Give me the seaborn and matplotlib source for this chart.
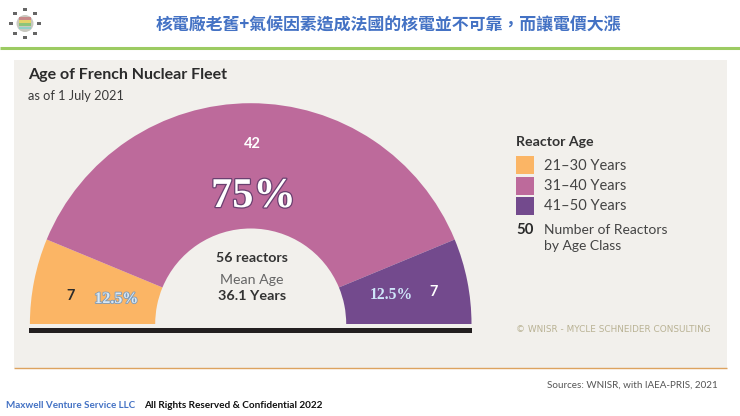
import matplotlib
matplotlib.use("Agg")
import matplotlib.pyplot as plt
import matplotlib.patheffects as pe
from matplotlib.patches import Rectangle, Circle
import seaborn as sns

age_classes = ["21–30 Years", "31–40 Years", "41–50 Years"]
reactors = [7, 42, 7]
shares = ["12.5%", "75%", "12.5%"]
colors = ["#FBB565", "#BD6A9B", "#734A8D"]
total_reactors = 56
mean_age = "36.1 Years"

sns.set_theme(style="white")
SANS = ["Lato", "DejaVu Sans"]
plt.rcParams["font.family"] = SANS

W, H = 740, 416
fig = plt.figure(figsize=(W / 100, H / 100), dpi=100, facecolor="white")
ax = fig.add_axes([0, 0, 1, 1])
Y = lambda py: H - py

ax.add_patch(Rectangle((14, Y(368)), 713, 308, fc="#F2F0EC", ec="none", zorder=0))

# half doughnut: hidden lower half balances the visible half
cx, cy, R, r = 250.7, Y(324), 220.8, 95.5
ax.pie(reactors + [sum(reactors)], colors=colors + ["none"], startangle=180,
       counterclock=False, center=(cx, cy), radius=R, frame=True,
       wedgeprops=dict(width=R - r, linewidth=0))
ax.set_xlim(0, W)
ax.set_ylim(0, H)
ax.set_aspect("auto")
ax.axis("off")

# rules
ax.plot([0, W], [Y(48), Y(48)], color="#9CCB62", lw=2.2, solid_capstyle="butt")
ax.plot([14, 727], [Y(368), Y(368)], color="#DDA35F", lw=1, solid_capstyle="butt")
ax.add_patch(Rectangle((29, Y(332.5)), 443, 4.5, fc="#231F20", ec="none", zorder=3))

def T(x, y, s, size, color="#333333", weight="normal", ha="left", family=None, **kw):
    return ax.text(x, Y(y), s, fontsize=size, color=color, fontweight=weight, ha=ha,
                   va="center", family=family or SANS, zorder=5, **kw)

T(388.5, 25.5, "核電廠老舊+氣候因素造成法國的核電並不可靠，而讓電價大漲", 12.2, "#4472C4", "bold",
  ha="center", family=["Noto Sans CJK TC", "DejaVu Sans"])
T(28, 75, "Age of French Nuclear Fleet", 11.5, "#2B2B2B", "bold")
T(28, 96.5, "as of 1 July 2021", 9.2, "#3A3A3A")

# slice labels
T(252, 144.5, str(reactors[1]), 10.5, "white", "bold", ha="center")
big = T(253.5, 197, shares[1], 30.5, "white", "bold", ha="center", family=["Liberation Serif"])
big.set_path_effects([pe.withStroke(linewidth=1.8, foreground="#6A4070")])
T(71, 295.5, str(reactors[0]), 10.5, "#2B2B2B", "bold", ha="center")
T(434, 291.5, str(reactors[2]), 10.5, "white", "bold", ha="center")
t1 = T(116.5, 299, shares[0], 11.5, "#D9E8F5", "bold", ha="center", family=["Liberation Serif"])
t1.set_path_effects([pe.withStroke(linewidth=1.2, foreground="#7E9BB8")])
T(391.5, 295, shares[2], 11.3, "#CFE6FA", "bold", ha="center", family=["Liberation Serif"])

# centre text
T(252, 258, f"{total_reactors} reactors", 10.2, "#333333", "bold", ha="center")
T(252, 279.5, "Mean Age", 10.2, "#666666", ha="center")
T(252, 296.5, mean_age, 10.4, "#333333", "bold", ha="center")

# legend
T(516, 142.5, "Reactor Age", 10.2, "#333333", "bold")
for py, lab, col in zip([156, 176.5, 197], age_classes, colors):
    ax.add_patch(Rectangle((516, Y(py + 18)), 18, 18, fc=col, ec="none", zorder=4))
    T(544.5, py + 9.5, lab, 10.5, "#444444")
T(516, 229.5, "50", 10.8, "#2B2B2B", "bold")
T(544.5, 229.5, "Number of Reactors", 10.0, "#444444")
T(544.5, 246.5, "by Age Class", 10.0, "#444444")
T(516, 330, "© WNISR - MYCLE SCHNEIDER CONSULTING", 6.4, "#B9B294", family=["DejaVu Sans"])

# footer
T(717.5, 385.5, "Sources: WNISR, with IAEA-PRIS, 2021", 7.1, "#555555", ha="right")
T(6, 406, "Maxwell Venture Service LLC", 7.1, "#4472C4", "bold")
T(144, 406, "All Rights Reserved & Confidential 2022", 7.2, "#111111", "bold")

# logo
lx, ly = 25, Y(23.5)
ax.add_patch(Circle((lx, ly), 8.5, fc="#C9C9C0", ec="none", zorder=4))
for i, c in enumerate(["#C88A8A", "#E3D36A", "#8CC47A", "#8FD0C8"]):
    ax.add_patch(Rectangle((lx - 6, ly + 3.8 - i * 3.2), 12, 2.8, fc=c, ec="none", zorder=5))
for dx, dy in [(0, 14), (0, -14), (-14, 0), (14, 0), (-10, 10), (10, 10), (-10, -10), (10, -10)]:
    ax.add_patch(Rectangle((lx + dx - 2, ly + dy - 1.5), 4, 3, fc="#666666", ec="none", zorder=5))

fig.savefig("out.png", dpi=100, facecolor="white")
